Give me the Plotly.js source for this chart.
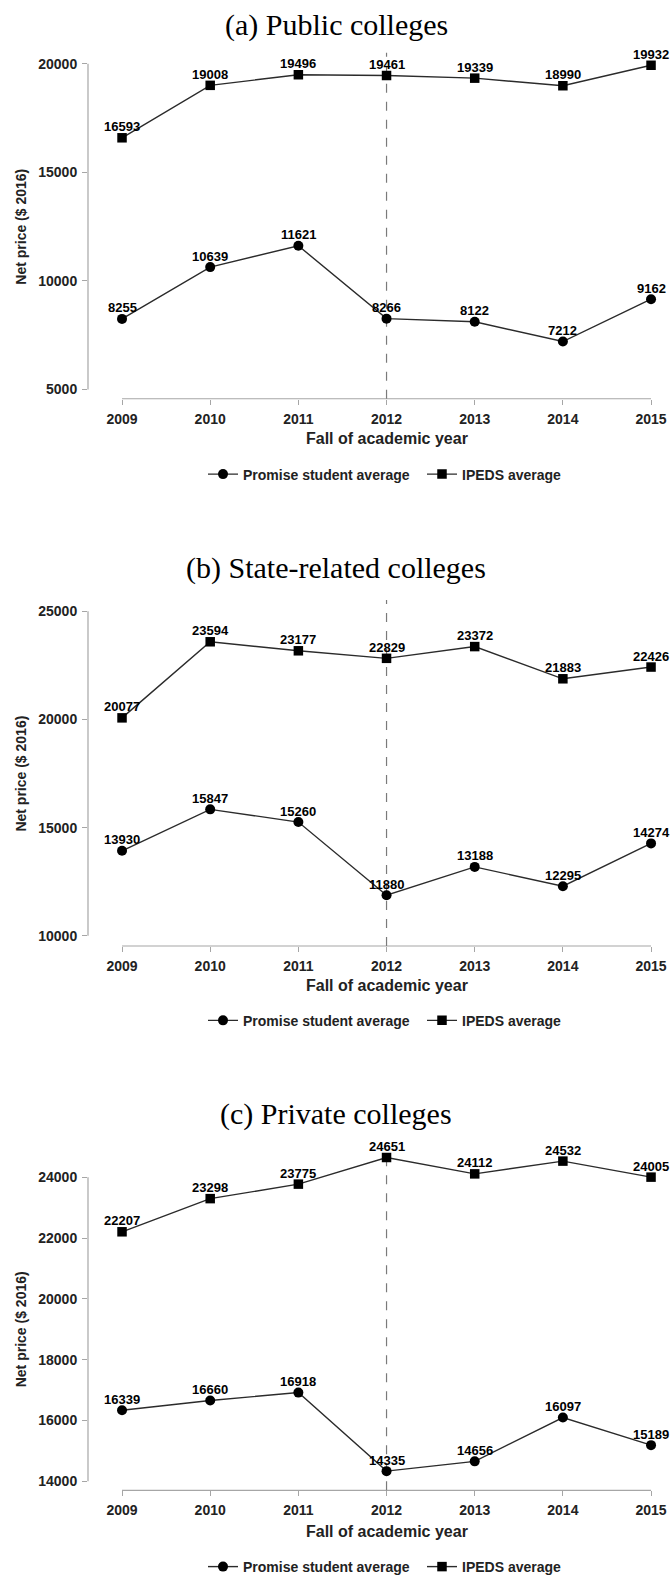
<!DOCTYPE html>
<html>
<head>
<meta charset="utf-8">
<script src="https://cdn.plot.ly/plotly-3.0.1.min.js"></script>
<style>html,body{margin:0;padding:0;background:#fff;}#chart{width:670px;height:1583px;}</style>
</head>
<body>
<div id="chart"></div>
<script>
// ---- data ----
const years = [2009, 2010, 2011, 2012, 2013, 2014, 2015];
const publicPromise = [8255, 10639, 11621, 8266, 8122, 7212, 9162];
const publicIPEDS = [16593, 19008, 19496, 19461, 19339, 18990, 19932];
const stateRelatedPromise = [13930, 15847, 15260, 11880, 13188, 12295, 14274];
const stateRelatedIPEDS = [20077, 23594, 23177, 22829, 23372, 21883, 22426];
const privatePromise = [16339, 16660, 16918, 14335, 14656, 16097, 15189];
const privateIPEDS = [22207, 23298, 23775, 24651, 24112, 24532, 24005];
const panelTitles = ["(a) Public colleges", "(b) State-related colleges", "(c) Private colleges"];
const publicTicks = [5000, 10000, 15000, 20000];
const stateRelatedTicks = [10000, 15000, 20000, 25000];
const privateTicks = [14000, 16000, 18000, 20000, 22000, 24000];
const seriesNames = ["Promise student average", "IPEDS average"];
const policyYear = 2012;
const xAxisTitle = "Fall of academic year";
const yAxisTitle = "Net price ($ 2016)";

// ---- layout helpers ----
const W = 670, H = 1583;
const py = p => 1 - p / H;
const pxX = p => p / W;
const narrow = "Liberation Sans Narrow, Arial Narrow, Liberation Sans, Arial, sans-serif";
const sans = "Liberation Sans, Arial, sans-serif";
const serif = "Liberation Serif, Times New Roman, serif";
const axisGray = "#a6a6a6";

const panels = [
  {promise: publicPromise, ipeds: publicIPEDS, ticks: publicTicks, top: 53, bottom: 400, range: [4578, 20505], titleY: 25, xTitleY: 440, legendY: 476},
  {promise: stateRelatedPromise, ipeds: stateRelatedIPEDS, ticks: stateRelatedTicks, top: 602, bottom: 949, range: [9530, 25521], titleY: 570, xTitleY: 989, legendY: 1024},
  {promise: privatePromise, ipeds: privateIPEDS, ticks: privateTicks, top: 1160, bottom: 1495, range: [13705, 24689], titleY: 1118, xTitleY: 1536, legendY: 1572}
];

const yAxisX = 88;
const xDomain = [pxX(yAxisX), 1];
const xRange = [2008.614, 2015.215];

const traces = [];
const layout = {
  width: W, height: H,
  margin: {l: 0, r: 0, t: 0, b: 0},
  paper_bgcolor: "#fff", plot_bgcolor: "#fff",
  showlegend: true,
  annotations: [], shapes: []
};

const labelFont = {family: narrow, size: 13, color: "#000", weight: "bold"};

panels.forEach((p, i) => {
  const k = i === 0 ? "" : String(i + 1);
  const xa = "x" + k, ya = "y" + k;
  const legendName = "legend" + k;
  const common = {
    x: years, xaxis: xa, yaxis: ya, mode: "lines+markers",
    line: {color: "#2b2b2b", width: 1.4},
    cliponaxis: false, legend: legendName, hoverinfo: "x+y"
  };
  traces.push(Object.assign({}, common, {
    y: p.promise, name: seriesNames[0],
    marker: {symbol: "circle", size: 10, color: "#000"}
  }));
  traces.push(Object.assign({}, common, {
    y: p.ipeds, name: seriesNames[1],
    marker: {symbol: "square", size: 9.5, color: "#000"}
  }));

  // value labels above each point
  [p.promise, p.ipeds].forEach(series => {
    series.forEach((v, j) => {
      layout.annotations.push({text: String(v), xref: xa, yref: ya, x: years[j], y: v,
        xanchor: "center", yanchor: "middle", yshift: 11, showarrow: false, font: labelFont});
    });
  });

  layout["xaxis" + k] = {
    domain: xDomain, range: xRange, anchor: ya,
    tickvals: years, ticktext: years.map(String),
    ticks: "outside", ticklen: 5, tickcolor: axisGray, tickwidth: 1,
    showline: false, showgrid: false, zeroline: false,
    tickfont: {family: narrow, size: 14, color: "#222", weight: "bold"},
    ticklabelstandoff: 2, fixedrange: true
  };
  layout["yaxis" + k] = {
    domain: [py(p.bottom), py(p.top)], range: p.range, anchor: xa,
    tickvals: p.ticks, ticktext: p.ticks.map(String),
    ticks: "outside", ticklen: 5, tickcolor: axisGray, tickwidth: 1,
    showline: false, showgrid: false, zeroline: false,
    tickfont: {family: narrow, size: 14, color: "#222", weight: "bold"},
    ticklabelstandoff: 2, fixedrange: true
  };
  layout[legendName] = {
    orientation: "h", x: pxX(203), xanchor: "left", y: py(p.legendY), yanchor: "middle",
    font: {family: narrow, size: 14, color: "#222", weight: "bold"},
    bgcolor: "rgba(0,0,0,0)", itemwidth: 30, traceorder: "normal",
    entrywidth: 174, entrywidthmode: "pixels", borderwidth: 0
  };

  // range-frame axis lines spanning the tick range
  layout.shapes.push({type: "line", xref: "paper", x0: pxX(yAxisX), x1: pxX(yAxisX),
    yref: ya, y0: p.ticks[0], y1: p.ticks[p.ticks.length - 1], line: {color: axisGray, width: 1.2}, layer: "below"});
  layout.shapes.push({type: "line", xref: xa, x0: years[0], x1: years[years.length - 1],
    yref: ya + " domain", y0: 0, y1: 0, line: {color: axisGray, width: 1.2}, layer: "below"});
  // dashed policy line
  layout.shapes.push({type: "line", xref: xa, x0: policyYear, x1: policyYear,
    yref: ya + " domain", y0: 0, y1: 1, line: {color: "#7a7a7a", width: 1.2, dash: "dash"}, layer: "below"});

  layout.annotations.push({text: panelTitles[i], xref: "paper", yref: "paper", x: 0.502, y: py(p.titleY),
    xanchor: "center", yanchor: "middle", showarrow: false, font: {family: serif, size: 30, color: "#000"}});
  layout.annotations.push({text: xAxisTitle, xref: xa, yref: "paper", x: policyYear, y: py(p.xTitleY),
    xanchor: "center", yanchor: "middle", showarrow: false, font: {family: narrow, size: 16, color: "#222", weight: "bold"}});
  layout.annotations.push({text: yAxisTitle, xref: "paper", yref: ya, x: pxX(21),
    y: (p.ticks[0] + p.ticks[p.ticks.length - 1]) / 2, textangle: -90,
    xanchor: "center", yanchor: "middle", showarrow: false, font: {family: sans, size: 14, color: "#222", weight: "bold"}});
});

Plotly.newPlot("chart", traces, layout, {displayModeBar: false, staticPlot: true});
</script>
</body>
</html>
